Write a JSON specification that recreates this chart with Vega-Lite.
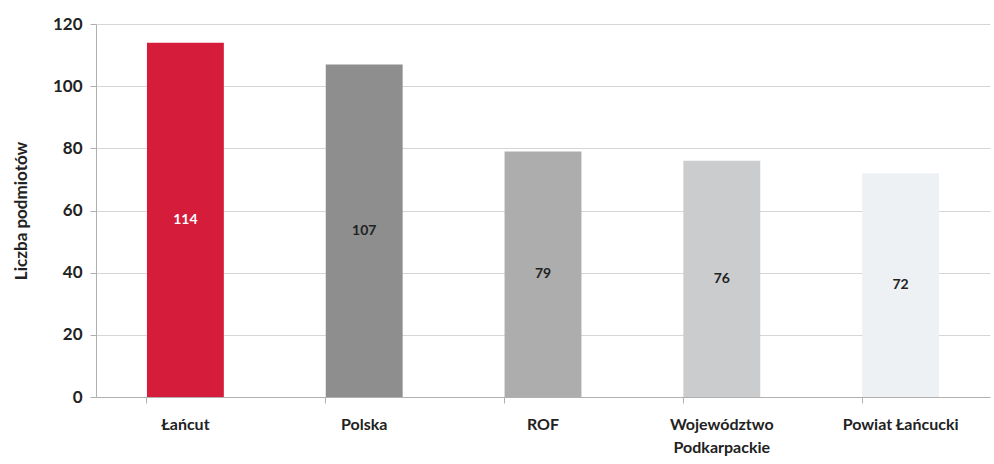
{
  "$schema": "https://vega.github.io/schema/vega-lite/v6.json",
  "width": 894,
  "height": 373,
  "autosize": {"type": "none"},
  "padding": {"left": 96, "top": 24, "right": 4, "bottom": 67},
  "background": "white",
  "config": {
    "view": {"stroke": null},
    "font": "Lato"
  },
  "data": {
    "values": [
      {"kategoria": "Łańcut", "liczba": 114, "kolor": "#d61c3b", "tekst": "white"},
      {"kategoria": "Polska", "liczba": 107, "kolor": "#8e8e8e", "tekst": "#222222"},
      {"kategoria": "ROF", "liczba": 79, "kolor": "#adadad", "tekst": "#222222"},
      {"kategoria": "Województwo Podkarpackie", "liczba": 76, "kolor": "#cbcccd", "tekst": "#222222"},
      {"kategoria": "Powiat Łańcucki", "liczba": 72, "kolor": "#eef1f3", "tekst": "#222222"}
    ]
  },
  "encoding": {
    "x": {
      "field": "kategoria",
      "type": "nominal",
      "sort": null,
      "scale": {"paddingInner": 0.57, "paddingOuter": 0.285},
      "axis": {
        "title": null,
        "labelAngle": 0,
        "labelFont": "Lato",
        "labelFontSize": 16,
        "labelFontWeight": "bold",
        "labelColor": "#222222",
        "labelPadding": 13,
        "labelLineHeight": 23,
        "labelExpr": "datum.label == 'Województwo Podkarpackie' ? ['Województwo', 'Podkarpackie'] : datum.label",
        "bandPosition": 0,
        "tickSize": 6,
        "tickColor": "#b0b0b0",
        "domainColor": "#b0b0b0",
        "grid": false
      }
    }
  },
  "layer": [
    {
      "mark": {"type": "bar"},
      "encoding": {
        "y": {
          "field": "liczba",
          "type": "quantitative",
          "scale": {"domain": [0, 120]},
          "axis": {
            "title": "Liczba podmiotów",
            "titleFont": "Lato",
            "titleFontSize": 17,
            "titleFontWeight": "bold",
            "titleColor": "#222222",
            "titlePadding": 22,
            "values": [0, 20, 40, 60, 80, 100, 120],
            "labelFont": "Lato",
            "labelFontSize": 17,
            "labelFontWeight": "bold",
            "labelColor": "#222222",
            "labelPadding": 8,
            "tickSize": 6,
            "tickColor": "#b0b0b0",
            "domainColor": "#b0b0b0",
            "gridColor": "#d6d6d6"
          }
        },
        "color": {"field": "kolor", "type": "nominal", "scale": null, "legend": null}
      }
    },
    {
      "mark": {"type": "text", "fontSize": 14, "fontWeight": "bold", "font": "Lato"},
      "transform": [{"calculate": "datum.liczba / 2", "as": "srodek"}],
      "encoding": {
        "y": {"field": "srodek", "type": "quantitative"},
        "text": {"field": "liczba", "type": "quantitative"},
        "color": {"field": "tekst", "type": "nominal", "scale": null, "legend": null}
      }
    }
  ]
}
